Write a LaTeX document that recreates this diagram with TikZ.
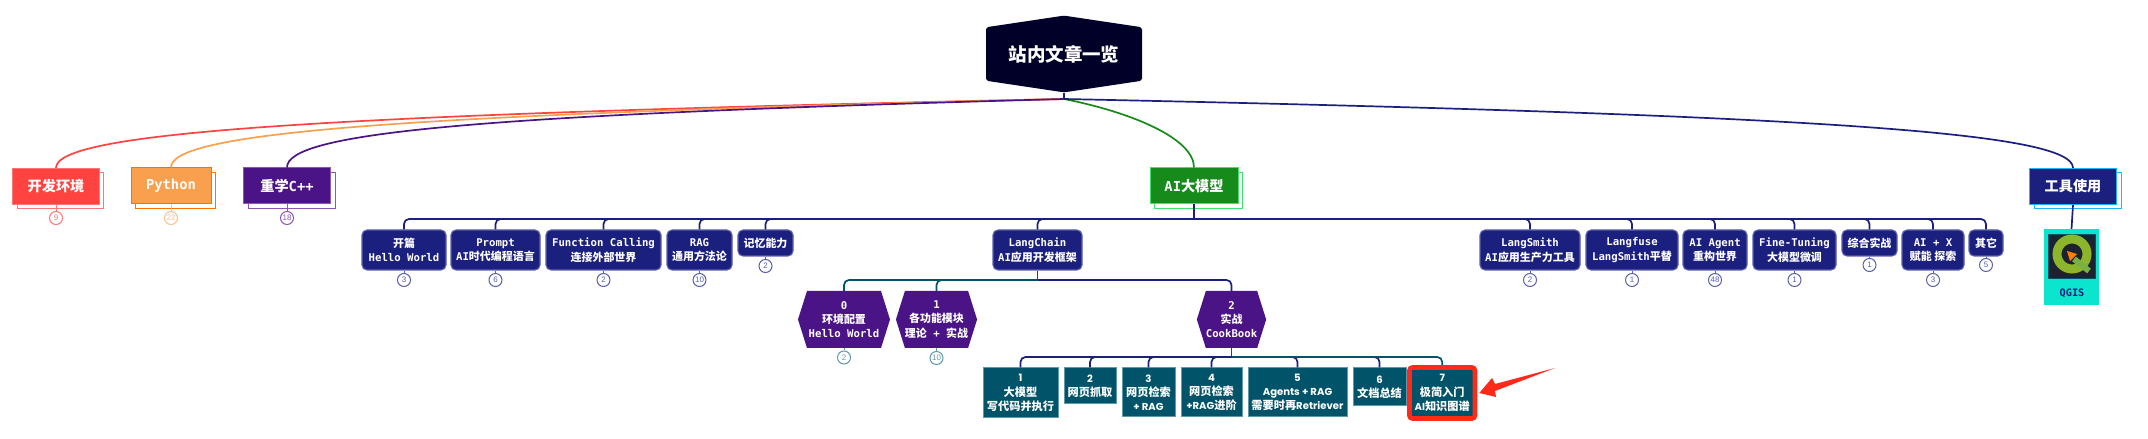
\documentclass[tikz,border=0pt]{standalone}
\usepackage{fontspec}
\setmainfont{DejaVu Sans Mono}
\newfontfamily\zhfont[Scale=1.03]{Noto Sans CJK SC}
\newfontfamily\cardfont[Scale=.93]{Poppins}
\newfontfamily\countfont{Liberation Sans}
\usetikzlibrary{positioning, arrows.meta, shapes.symbols, shadows}

\definecolor{inkroot}{HTML}{000028}
\definecolor{inkred}{HTML}{FF4340}
\definecolor{rimred}{HTML}{FF7676}
\definecolor{inkorange}{HTML}{F9A04E}
\definecolor{rimorange}{HTML}{FF7000}
\definecolor{softorange}{HTML}{FFC08A}
\definecolor{inkpurple}{HTML}{4A1486}
\definecolor{rimpurple}{HTML}{8F55B5}
\definecolor{inkgreen}{HTML}{178A1C}
\definecolor{rimgreen}{HTML}{3DE36B}
\definecolor{inknavy}{HTML}{1B1F7E}
\definecolor{rimnavy}{HTML}{5B60AD}
\definecolor{rimsky}{HTML}{1EB5FF}
\definecolor{inkteal}{HTML}{005368}
\definecolor{rimteal}{HTML}{5F9AAA}
\definecolor{inkaqua}{HTML}{0BE5CE}
\definecolor{flagred}{HTML}{FF2A1A}
\definecolor{iconink}{HTML}{1C2230}
\definecolor{qgislime}{HTML}{8DB52C}
\definecolor{qgisleaf}{HTML}{79B045}

\begin{document}
\begin{tikzpicture}[
    x=1bp, y=-1bp,
    topbox/.style 2 args={draw=#2, fill=#1, line width=1bp, text=white, inner sep=0pt, minimum height=36bp,
        font=\fontsize{13.8}{16}\selectfont\bfseries,
        copy shadow={shadow xshift=4.5bp, shadow yshift=-4.5bp, fill=white, draw=#2, line width=1bp}},
    itembox/.style={draw=rimnavy, fill=inknavy, line width=1.1bp, rounded corners=5bp, text=white, inner sep=0pt,
        align=center, font=\fontsize{10.7}{14.7}\selectfont\bfseries},
    hexbox/.style={signal, signal to=east and west, fill=inkpurple, text=white, inner sep=0pt,
        align=center, font=\fontsize{10.7}{14.3}\selectfont\bfseries},
    cardbox/.style={draw=rimteal, fill=inkteal, line width=1bp, text=white, inner sep=0pt,
        align=center, font=\fontsize{10.9}{14.2}\selectfont\cardfont\bfseries},
    countdot/.style={circle, draw=#1, fill=white, line width=1bp, text=#1, inner sep=0pt, minimum size=13bp,
        font=\fontsize{8}{9}\selectfont\countfont},
    wire/.style={draw=#1, line width=1.7bp},
    thinwire/.style={draw=#1, line width=1bp},
    fork/.style={draw=#1, line width=1.7bp, rounded corners=5bp},
]

% Root and branches
\node[signal, signal to=north and south, fill=inkroot, rounded corners=2bp, text=white, inner sep=0pt,
    minimum width=156bp, minimum height=70bp, signal pointer angle=163,
    font=\fontsize{18}{20}\selectfont\bfseries\zhfont] (root) at (1064,54) {站内文章一览};
\coordinate (hub) at (1064,99);

\node[topbox={inkred}{rimred}, minimum width=86bp] (devenv) at (56,186.5) {\zhfont 开发环境};
\node[topbox={inkorange}{rimorange}, minimum width=80bp] (python) at (171,186) {Python};
\node[topbox={inkpurple}{rimpurple}, minimum width=87bp] (cpp) at (287,186) {{\zhfont 重学}C++};
\node[topbox={inkgreen}{rimgreen}, minimum width=88bp] (llm) at (1194,186) {AI{\zhfont 大模型}};
\node[topbox={inknavy}{rimsky}, minimum width=87bp] (tools) at (2073,186.5) {\zhfont 工具使用};

% First row under the big branch
\node[itembox, minimum width=84bp, minimum height=40bp] (hello) at (404,250) {{\zhfont 开篇}\\Hello World};
\node[itembox, minimum width=89bp, minimum height=40bp] (prompt) at (495.5,250) {Prompt\\AI{\zhfont 时代编程语言}};
\node[itembox, minimum width=115bp, minimum height=40bp] (fcall) at (603.5,250) {Function Calling\\{\zhfont 连接外部世界}};
\node[itembox, minimum width=65bp, minimum height=40bp] (rag) at (699.5,250) {RAG\\{\zhfont 通用方法论}};
\node[itembox, minimum width=55bp, minimum height=26bp] (memory) at (765.5,243) {\zhfont 记忆能力};
\node[itembox, minimum width=89bp, minimum height=40bp] (chain) at (1037.5,250) {LangChain\\AI{\zhfont 应用开发框架}};
\node[itembox, minimum width=100bp, minimum height=40bp] (smith) at (1530,250) {LangSmith\\AI{\zhfont 应用生产力工具}};
\node[itembox, minimum width=92bp, minimum height=40bp] (fuse) at (1632,250) {Langfuse\\LangSmith{\zhfont 平替}};
\node[itembox, minimum width=64bp, minimum height=40bp] (agent) at (1715,250) {AI Agent\\{\zhfont 重构世界}};
\node[itembox, minimum width=83bp, minimum height=40bp] (tuning) at (1794.5,250) {Fine-Tuning\\{\zhfont 大模型微调}};
\node[itembox, minimum width=55bp, minimum height=26bp] (combat) at (1869.5,243) {\zhfont 综合实战};
\node[itembox, minimum width=62bp, minimum height=40bp] (aix) at (1933,250) {AI + X\\{\zhfont 赋能 探索}};
\node[itembox, minimum width=34bp, minimum height=26bp] (misc) at (1986,243) {\zhfont 其它};

% LangChain parts
\node[hexbox, minimum width=92bp, minimum height=57bp, signal pointer angle=145] (part0) at (844,319.5) {0\\{\zhfont 环境配置}\\Hello World};
\node[hexbox, minimum width=81bp, minimum height=57bp, signal pointer angle=145] (part1) at (936.5,319.5) {1\\{\zhfont 各功能模块}\\{\zhfont 理论} + {\zhfont 实战}};
\node[hexbox, minimum width=67bp, minimum height=57bp, signal pointer angle=145] (part2) at (1231.5,319.5) {2\\{\zhfont 实战}\\CookBook};

% CookBook cards
\node[cardbox, minimum width=75bp, minimum height=50bp] (card1) at (1020.5,393) {1\\{\zhfont 大模型}\\{\zhfont 写代码并执行}};
\node[cardbox, minimum width=52bp, minimum height=36bp] (card2) at (1090,386) {2\\{\zhfont 网页抓取}};
\node[cardbox, minimum width=53bp, minimum height=49bp] (card3) at (1148.5,392.5) {3\\{\zhfont 网页检索}\\+ RAG};
\node[cardbox, minimum width=61bp, minimum height=49bp] (card4) at (1211.5,392.5) {4\\{\zhfont 网页检索}\\+RAG{\zhfont 进阶}};
\node[cardbox, minimum width=99bp, minimum height=49bp] (card5) at (1297.5,392.5) {5\\Agents + RAG\\{\zhfont 需要时再}Retriever};
\node[cardbox, minimum width=53bp, minimum height=38bp] (card6) at (1379.5,387) {6\\{\zhfont 文档总结}};
\node[cardbox, draw=flagred, line width=4.6bp, rounded corners=3bp, minimum width=65.5bp, minimum height=51bp] (card7) at (1442.2,393) {7\\{\zhfont 极简入门}\\AI{\zhfont 知识图谱}};

% QGIS card
\node[fill=inkaqua, minimum width=55bp, minimum height=76bp, inner sep=0pt] (qgis) at (2071.5,267) {};
\node[fill=iconink, draw=inkteal, line width=.6bp, minimum width=47bp, minimum height=44bp, inner sep=0pt] (qgisicon) at (2071.5,256) {};
\node[text=inknavy, inner sep=0pt, font=\fontsize{10.3}{12}\selectfont\bfseries] (qgisname) at (2072,293) {QGIS};
\draw[line width=9bp, qgislime] (qgisicon.center) ++(.5,-2) circle (15bp);
\draw[line width=6bp, qgisleaf] (2074,259) -- (2089,271);
\fill[orange] (2067,251) -- (2077,254) -- (2070,261) -- cycle;

% Big curves from the root
\draw[wire=inknavy] (root.south) -- (hub);
\draw[wire=inkred] (hub) .. controls (300,115) and (56,133) .. (devenv.north);
\draw[wire=inkorange] (hub) .. controls (385,115) and (171,133) .. (python.north);
\draw[wire=inkpurple] (hub) .. controls (470,115) and (287,133) .. (cpp.north);
\draw[wire=inkgreen] (hub) .. controls (1130,112) and (1194,138) .. (llm.north);
\draw[wire=inknavy] (hub) .. controls (1831,115) and (2073,133) .. (tools.north);
\draw[wire=inknavy] (tools.south) -- (qgis.north);

% Forks
\coordinate (llmbus) at (1194,219);
\coordinate (chainbus) at (1037.5,280);
\coordinate (partbus) at (1231.5,357);
\draw[wire=inknavy] (llm.south) -- (llmbus);
\draw[fork=inknavy] (llmbus) -| (hello.north);
\draw[fork=inknavy] (llmbus) -| (prompt.north);
\draw[fork=inknavy] (llmbus) -| (fcall.north);
\draw[fork=inknavy] (llmbus) -| (rag.north);
\draw[fork=inknavy] (llmbus) -| (memory.north);
\draw[fork=inknavy] (llmbus) -| (chain.north);
\draw[fork=inknavy] (llmbus) -| (smith.north);
\draw[fork=inknavy] (llmbus) -| (fuse.north);
\draw[fork=inknavy] (llmbus) -| (agent.north);
\draw[fork=inknavy] (llmbus) -| (tuning.north);
\draw[fork=inknavy] (llmbus) -| (combat.north);
\draw[fork=inknavy] (llmbus) -| (aix.north);
\draw[fork=inknavy] (llmbus) -| (misc.north);

\draw[wire=inkteal] (chain.south) -- (chainbus);
\draw[fork=inknavy] (chainbus) -| (part2.north);
\draw[fork=inkteal] (chainbus) -| (part0.north);
\draw[fork=inkteal] (chainbus) -| (part1.north);

\draw[wire=inkteal] (part2.south) -- (partbus);
\draw[fork=inknavy] (partbus) -| (card1.north);
\draw[fork=inknavy] (partbus) -| (card2.north);
\draw[fork=inknavy] (partbus) -| (card3.north);
\draw[fork=inknavy] (partbus) -| (card4.north);
\draw[fork=inknavy] (partbus) -| (card5.north);
\draw[fork=inknavy] (partbus) -| (card6.north);
\draw[fork=inkteal] (partbus) -| (card7.north);

% Counts
\node[countdot=rimred] (n1) at (56,218) {9};
\node[countdot=softorange] (n2) at (171,218) {22};
\node[countdot=rimpurple] (n3) at (287,218) {18};
\node[countdot=rimnavy] (n4) at (404,280) {3};
\node[countdot=rimnavy] (n5) at (495.5,280) {6};
\node[countdot=rimnavy] (n6) at (603.5,280) {2};
\node[countdot=rimnavy] (n7) at (699.5,280) {10};
\node[countdot=rimnavy] (n8) at (765.5,266) {2};
\node[countdot=rimnavy] (n9) at (1530,280) {2};
\node[countdot=rimnavy] (n10) at (1632,280) {1};
\node[countdot=rimnavy] (n11) at (1715,280) {48};
\node[countdot=rimnavy] (n12) at (1794.5,280) {1};
\node[countdot=rimnavy] (n13) at (1869.5,265) {1};
\node[countdot=rimnavy] (n14) at (1933,280) {3};
\node[countdot=rimnavy] (n15) at (1986,265) {5};
\node[countdot=rimteal] (n16) at (844,357.5) {2};
\node[countdot=rimteal] (n17) at (936.5,358) {10};
\draw[thinwire=rimred] (devenv.south) -- (n1);
\draw[thinwire=softorange] (python.south) -- (n2);
\draw[thinwire=rimpurple] (cpp.south) -- (n3);
\draw[thinwire=rimnavy] (hello.south) -- (n4);
\draw[thinwire=rimnavy] (prompt.south) -- (n5);
\draw[thinwire=rimnavy] (fcall.south) -- (n6);
\draw[thinwire=rimnavy] (rag.south) -- (n7);
\draw[thinwire=rimnavy] (memory.south) -- (n8);
\draw[thinwire=rimnavy] (smith.south) -- (n9);
\draw[thinwire=rimnavy] (fuse.south) -- (n10);
\draw[thinwire=rimnavy] (agent.south) -- (n11);
\draw[thinwire=rimnavy] (tuning.south) -- (n12);
\draw[thinwire=rimnavy] (combat.south) -- (n13);
\draw[thinwire=rimnavy] (aix.south) -- (n14);
\draw[thinwire=rimnavy] (misc.south) -- (n15);
\draw[thinwire=rimteal] (part0.south) -- (n16);
\draw[thinwire=rimteal] (part1.south) -- (n17);

% Red pointer at the last card
\fill[flagred] (card7.east) ++(2bp,0) -- (1492,378) -- (1495,384) -- (1555,368) -- (1495,391) -- (1496,397) -- cycle;

\useasboundingbox (0,0) rectangle (2148,439);
\end{tikzpicture}
\end{document}
